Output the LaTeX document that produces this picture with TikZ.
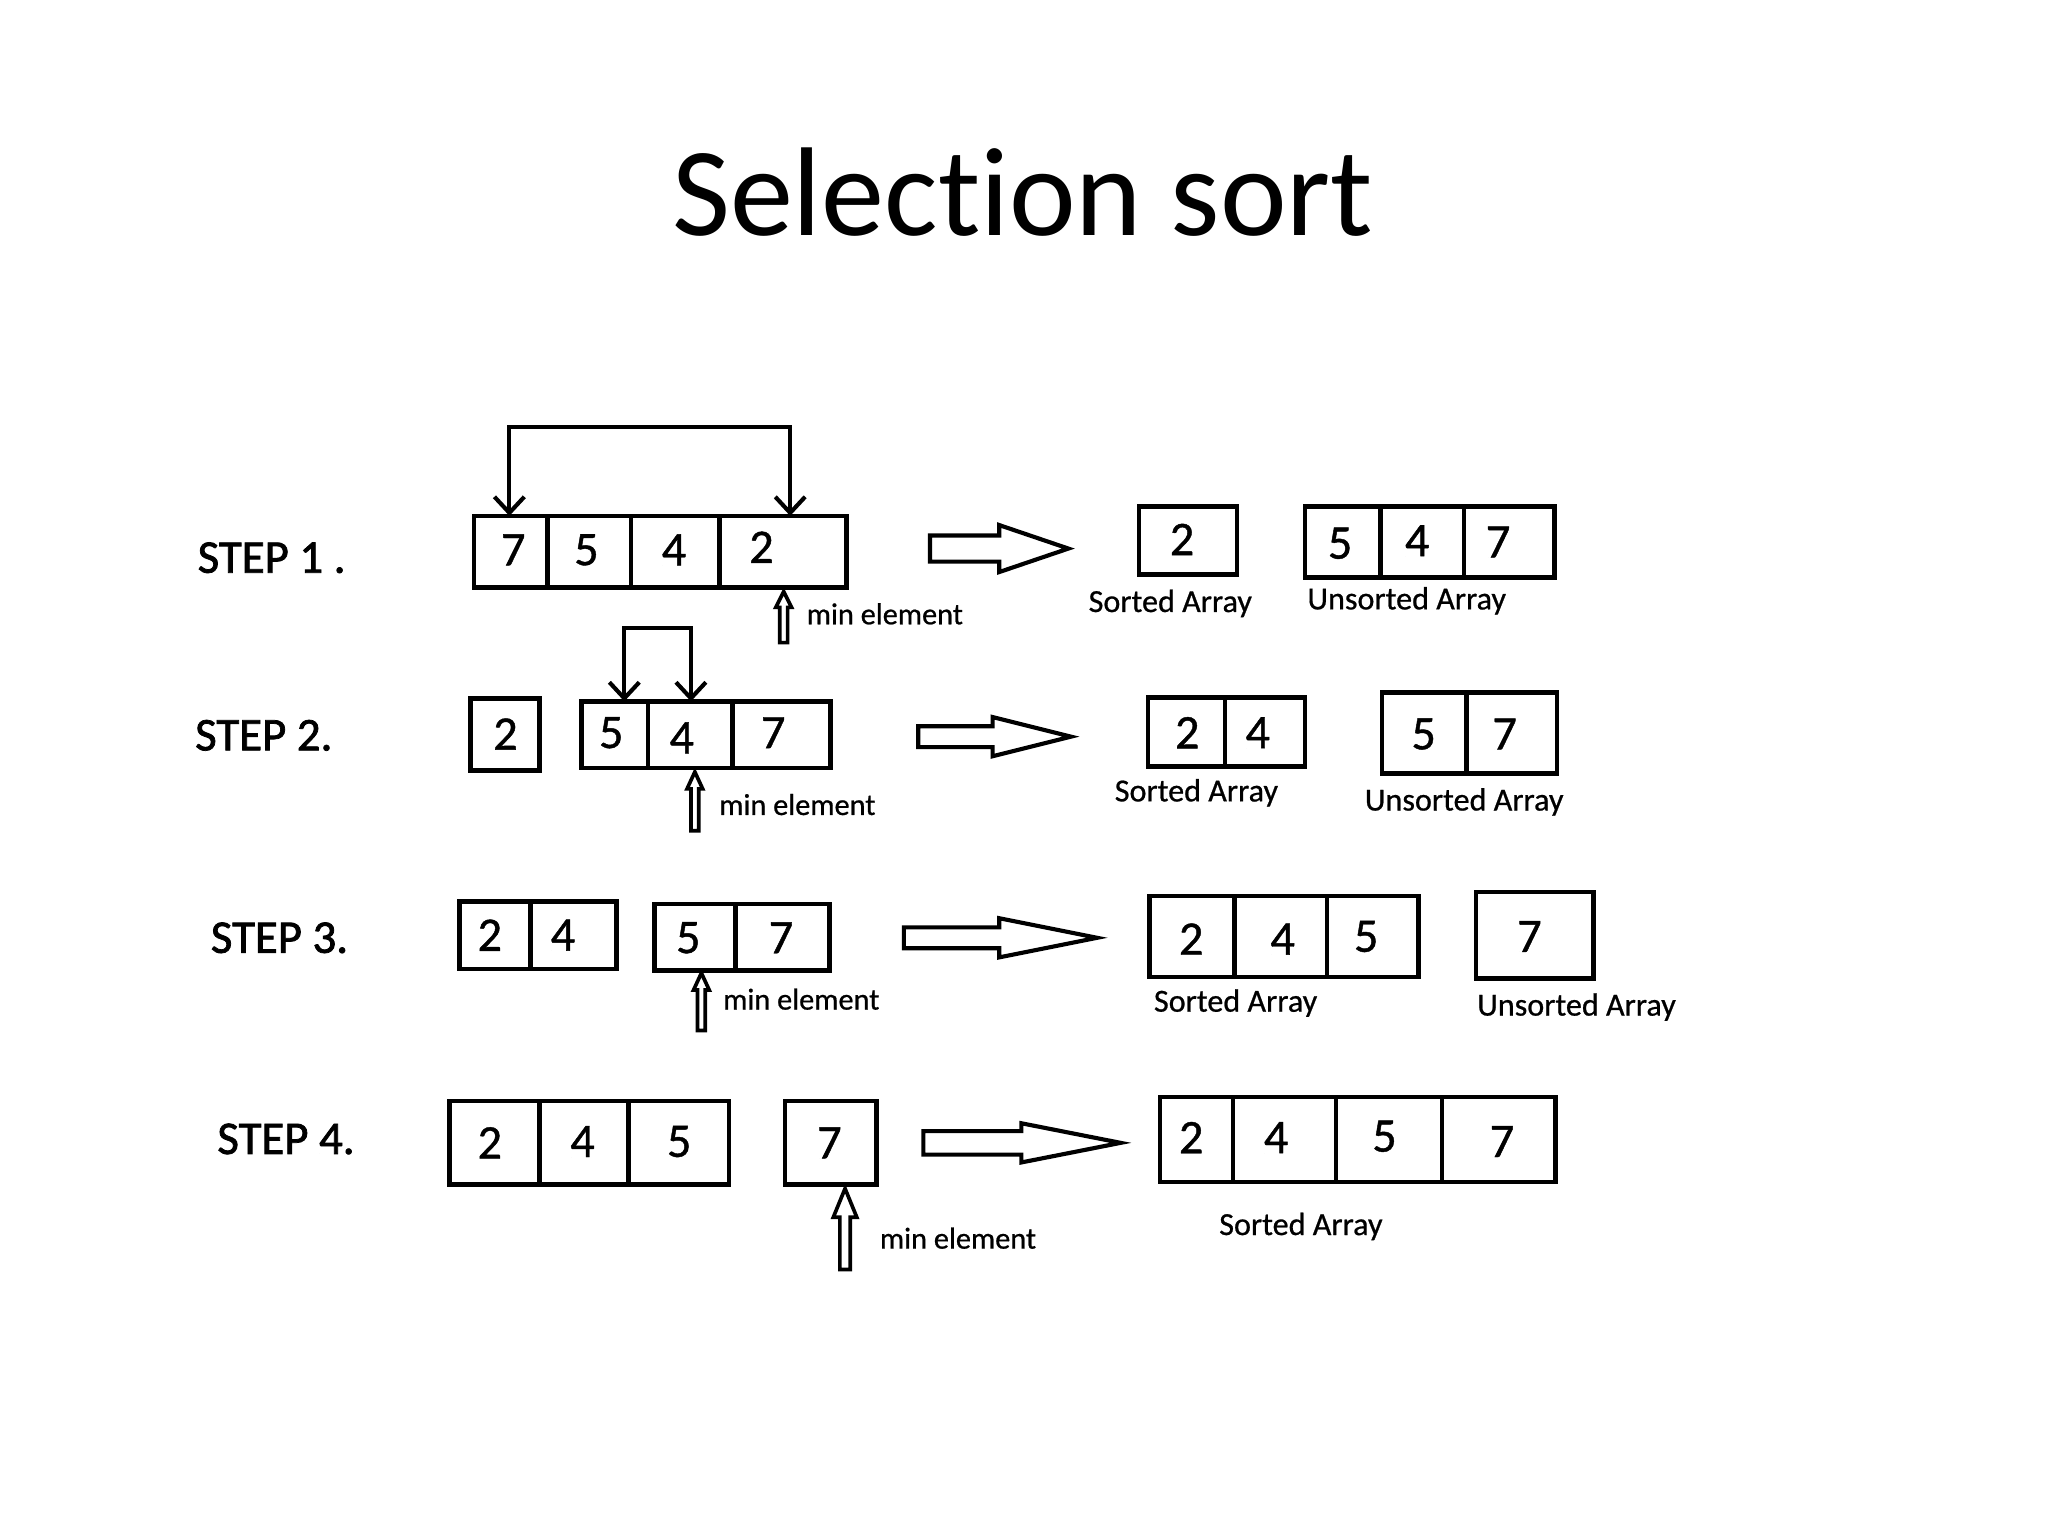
\documentclass[tikz,border=0pt]{standalone}
\usepackage{fontspec}
\setmainfont{Carlito}[Ligatures=NoCommon]
\newfontfamily\digfont{Carlito}[FakeBold=0.9]
\newfontfamily\capfont{Carlito}[FakeBold=0.7]
\newfontfamily\stepfont{Carlito}[FakeBold=1.6]
\usetikzlibrary{fit,arrows.meta}
\newcommand{\cellbox}[5]{\node[cellst, fit={(#2,#3) (#4,#5)}] (#1) {};}
\newcommand{\minarrow}[7]{% name, x, tip, bottom, shafthalf, headhalf, headlen
  \draw[minarr] (#2,#3) coordinate (#1) -- (#2+#6,#3+#7) -- (#2+#5,#3+#7) -- (#2+#5,#4) -- (#2-#5,#4) -- (#2-#5,#3+#7) -- (#2-#6,#3+#7) -- cycle;}
\newcommand{\bigarrow}[7]{% name, x0, xbase, xtip, yc, shafthalf, headhalf
  \draw[bigarrowst] (#2,#5-#6) -- (#3,#5-#6) -- (#3,#5-#7) -- (#4,#5) coordinate (#1) -- (#3,#5+#7) -- (#3,#5+#6) -- (#2,#5+#6) -- cycle;}
\begin{document}
\begin{tikzpicture}[x=0.01cm,y=-0.01cm,
  cellst/.style={draw, line width=1pt, inner sep=0pt, outer sep=0pt},
  digit/.style={font=\digfont\fontsize{10.5}{12}\selectfont, inner sep=0pt},
  steplbl/.style={font=\stepfont\fontsize{10.2}{12}\selectfont, inner sep=0pt},
  caption/.style={font=\capfont\fontsize{7}{8}\selectfont, inner sep=0pt},
  minlbl/.style={font=\capfont\fontsize{6.6}{8}\selectfont, inner sep=0pt, anchor=west},
  bigarrowst/.style={draw, line width=0.9pt, line join=miter},
  minarr/.style={draw, line width=0.8pt, line join=miter},
  bracket/.style={line width=0.9pt, {Straight Barb[length=3.5pt,width=6.5pt]}-{Straight Barb[length=3.5pt,width=6.5pt]}}]
\fill[white] (0,0) rectangle (1568,1176);
\useasboundingbox (0,0) rectangle (1568,1176);

\node[font=\fontsize{27.5}{33}\selectfont, anchor=base, inner sep=0pt] (title) at (783,180) {Selection sort};

% ---------- STEP 1 ----------
\node[steplbl] (st1) at (208,427) {STEP 1 .};
\cellbox{s1a}{363}{395}{419}{450}
\cellbox{s1b}{419}{395}{483}{450}
\cellbox{s1c}{483}{395}{551}{450}
\cellbox{s1d}{551}{395}{648}{450}
\node[digit] (d1a) at (393,421) {7};
\node[digit] (d1b) at (449,421) {5};
\node[digit] (d1c) at (516,421) {4};
\node[digit] (d1d) at (583,419) {2};
\draw[bracket] (s1a.north -| 390,0) -- (390,327) -- (605,327) -- (s1d.north -| 605,0);
\minarrow{m1}{600}{453}{492}{3}{6}{12}
\node[minlbl] (ml1) at (617,470) {min element};
\bigarrow{a1}{712}{765}{818}{420}{10}{18}
\cellbox{q1a}{872}{388}{947}{440}
\node[digit] (e1a) at (905,413) {2};
\node[caption] (c1s) at (896,462) {Sorted Array};
\cellbox{u1a}{999}{388}{1057}{442}
\cellbox{u1b}{1057}{388}{1121}{442}
\cellbox{u1c}{1121}{388}{1190}{442}
\node[digit] (f1a) at (1026,416) {5};
\node[digit] (f1b) at (1085,414) {4};
\node[digit] (f1c) at (1147,415) {7};
\node[caption] (c1u) at (1077,460) {Unsorted Array};

% ---------- STEP 2 ----------
\node[steplbl] (st2) at (202,563) {STEP 2.};
\cellbox{p2a}{360}{535}{413}{590}
\node[digit] (g2a) at (387,562) {2};
\cellbox{s2a}{445}{537}{496}{588}
\cellbox{s2b}{496}{537}{561}{588}
\cellbox{s2c}{561}{537}{636}{588}
\node[digit] (d2a) at (468,561) {5};
\node[digit] (d2b) at (522,565) {4};
\node[digit] (d2c) at (592,561) {7};
\draw[bracket] (s2a.north -| 478,0) -- (478,481) -- (529,481) -- (s2b.north -| 529,0);
\minarrow{m2}{532}{591}{636}{3}{6}{13}
\node[minlbl] (ml2) at (550,616) {min element};
\bigarrow{a2}{703}{760}{820}{564}{8}{15}
\cellbox{q2a}{879}{534}{938}{587}
\cellbox{q2b}{938}{534}{999}{587}
\node[digit] (e2a) at (909,561) {2};
\node[digit] (e2b) at (963,561) {4};
\node[caption] (c2s) at (916,607) {Sorted Array};
\cellbox{u2a}{1058}{530}{1123}{592}
\cellbox{u2b}{1123}{530}{1192}{592}
\node[digit] (f2a) at (1090,562) {5};
\node[digit] (f2b) at (1152,562) {7};
\node[caption] (c2u) at (1121,614) {Unsorted Array};

% ---------- STEP 3 ----------
\node[steplbl] (st3) at (214,718) {STEP 3.};
\cellbox{p3a}{352}{690}{406}{742}
\cellbox{p3b}{406}{690}{472}{742}
\node[digit] (g3a) at (375,716) {2};
\node[digit] (g3b) at (431,716) {4};
\cellbox{s3a}{501}{692}{563}{743}
\cellbox{s3b}{563}{692}{635}{743}
\node[digit] (d3a) at (527,718) {5};
\node[digit] (d3b) at (598,718) {7};
\minarrow{m3}{537}{745}{789}{3}{6}{13}
\node[minlbl] (ml3) at (553,765) {min element};
\bigarrow{a3}{692}{765}{840}{718}{8}{15}
\cellbox{q3a}{880}{686}{945}{748}
\cellbox{q3b}{945}{686}{1016}{748}
\cellbox{q3c}{1016}{686}{1086}{748}
\node[digit] (e3a) at (912,719) {2};
\node[digit] (e3b) at (982,719) {4};
\node[digit] (e3c) at (1046,717) {5};
\node[caption] (c3s) at (946,768) {Sorted Array};
\cellbox{u3a}{1130}{683}{1220}{749}
\node[digit] (f3a) at (1171,717) {7};
\node[caption] (c3u) at (1207,771) {Unsorted Array};

% ---------- STEP 4 ----------
\node[steplbl] (st4) at (219,872) {STEP 4.};
\cellbox{p4a}{344}{843}{413}{907}
\cellbox{p4b}{413}{843}{481}{907}
\cellbox{p4c}{481}{843}{558}{907}
\node[digit] (g4a) at (375,875) {2};
\node[digit] (g4b) at (446,874) {4};
\node[digit] (g4c) at (520,874) {5};
\cellbox{s4a}{601}{843}{671}{907}
\node[digit] (d4a) at (635,875) {7};
\minarrow{m4}{647}{910}{972}{4}{9}{22}
\node[minlbl] (ml4) at (673,948) {min element};
\bigarrow{a4}{707}{782}{858}{875}{9}{15}
\cellbox{q4a}{888}{840}{944}{905}
\cellbox{q4b}{944}{840}{1023}{905}
\cellbox{q4c}{1023}{840}{1104}{905}
\cellbox{q4d}{1104}{840}{1191}{905}
\node[digit] (e4a) at (912,871) {2};
\node[digit] (e4b) at (977,871) {4};
\node[digit] (e4c) at (1060,870) {5};
\node[digit] (e4d) at (1150,874) {7};
\node[caption] (c4s) at (996,939) {Sorted Array};
\end{tikzpicture}
\end{document}
